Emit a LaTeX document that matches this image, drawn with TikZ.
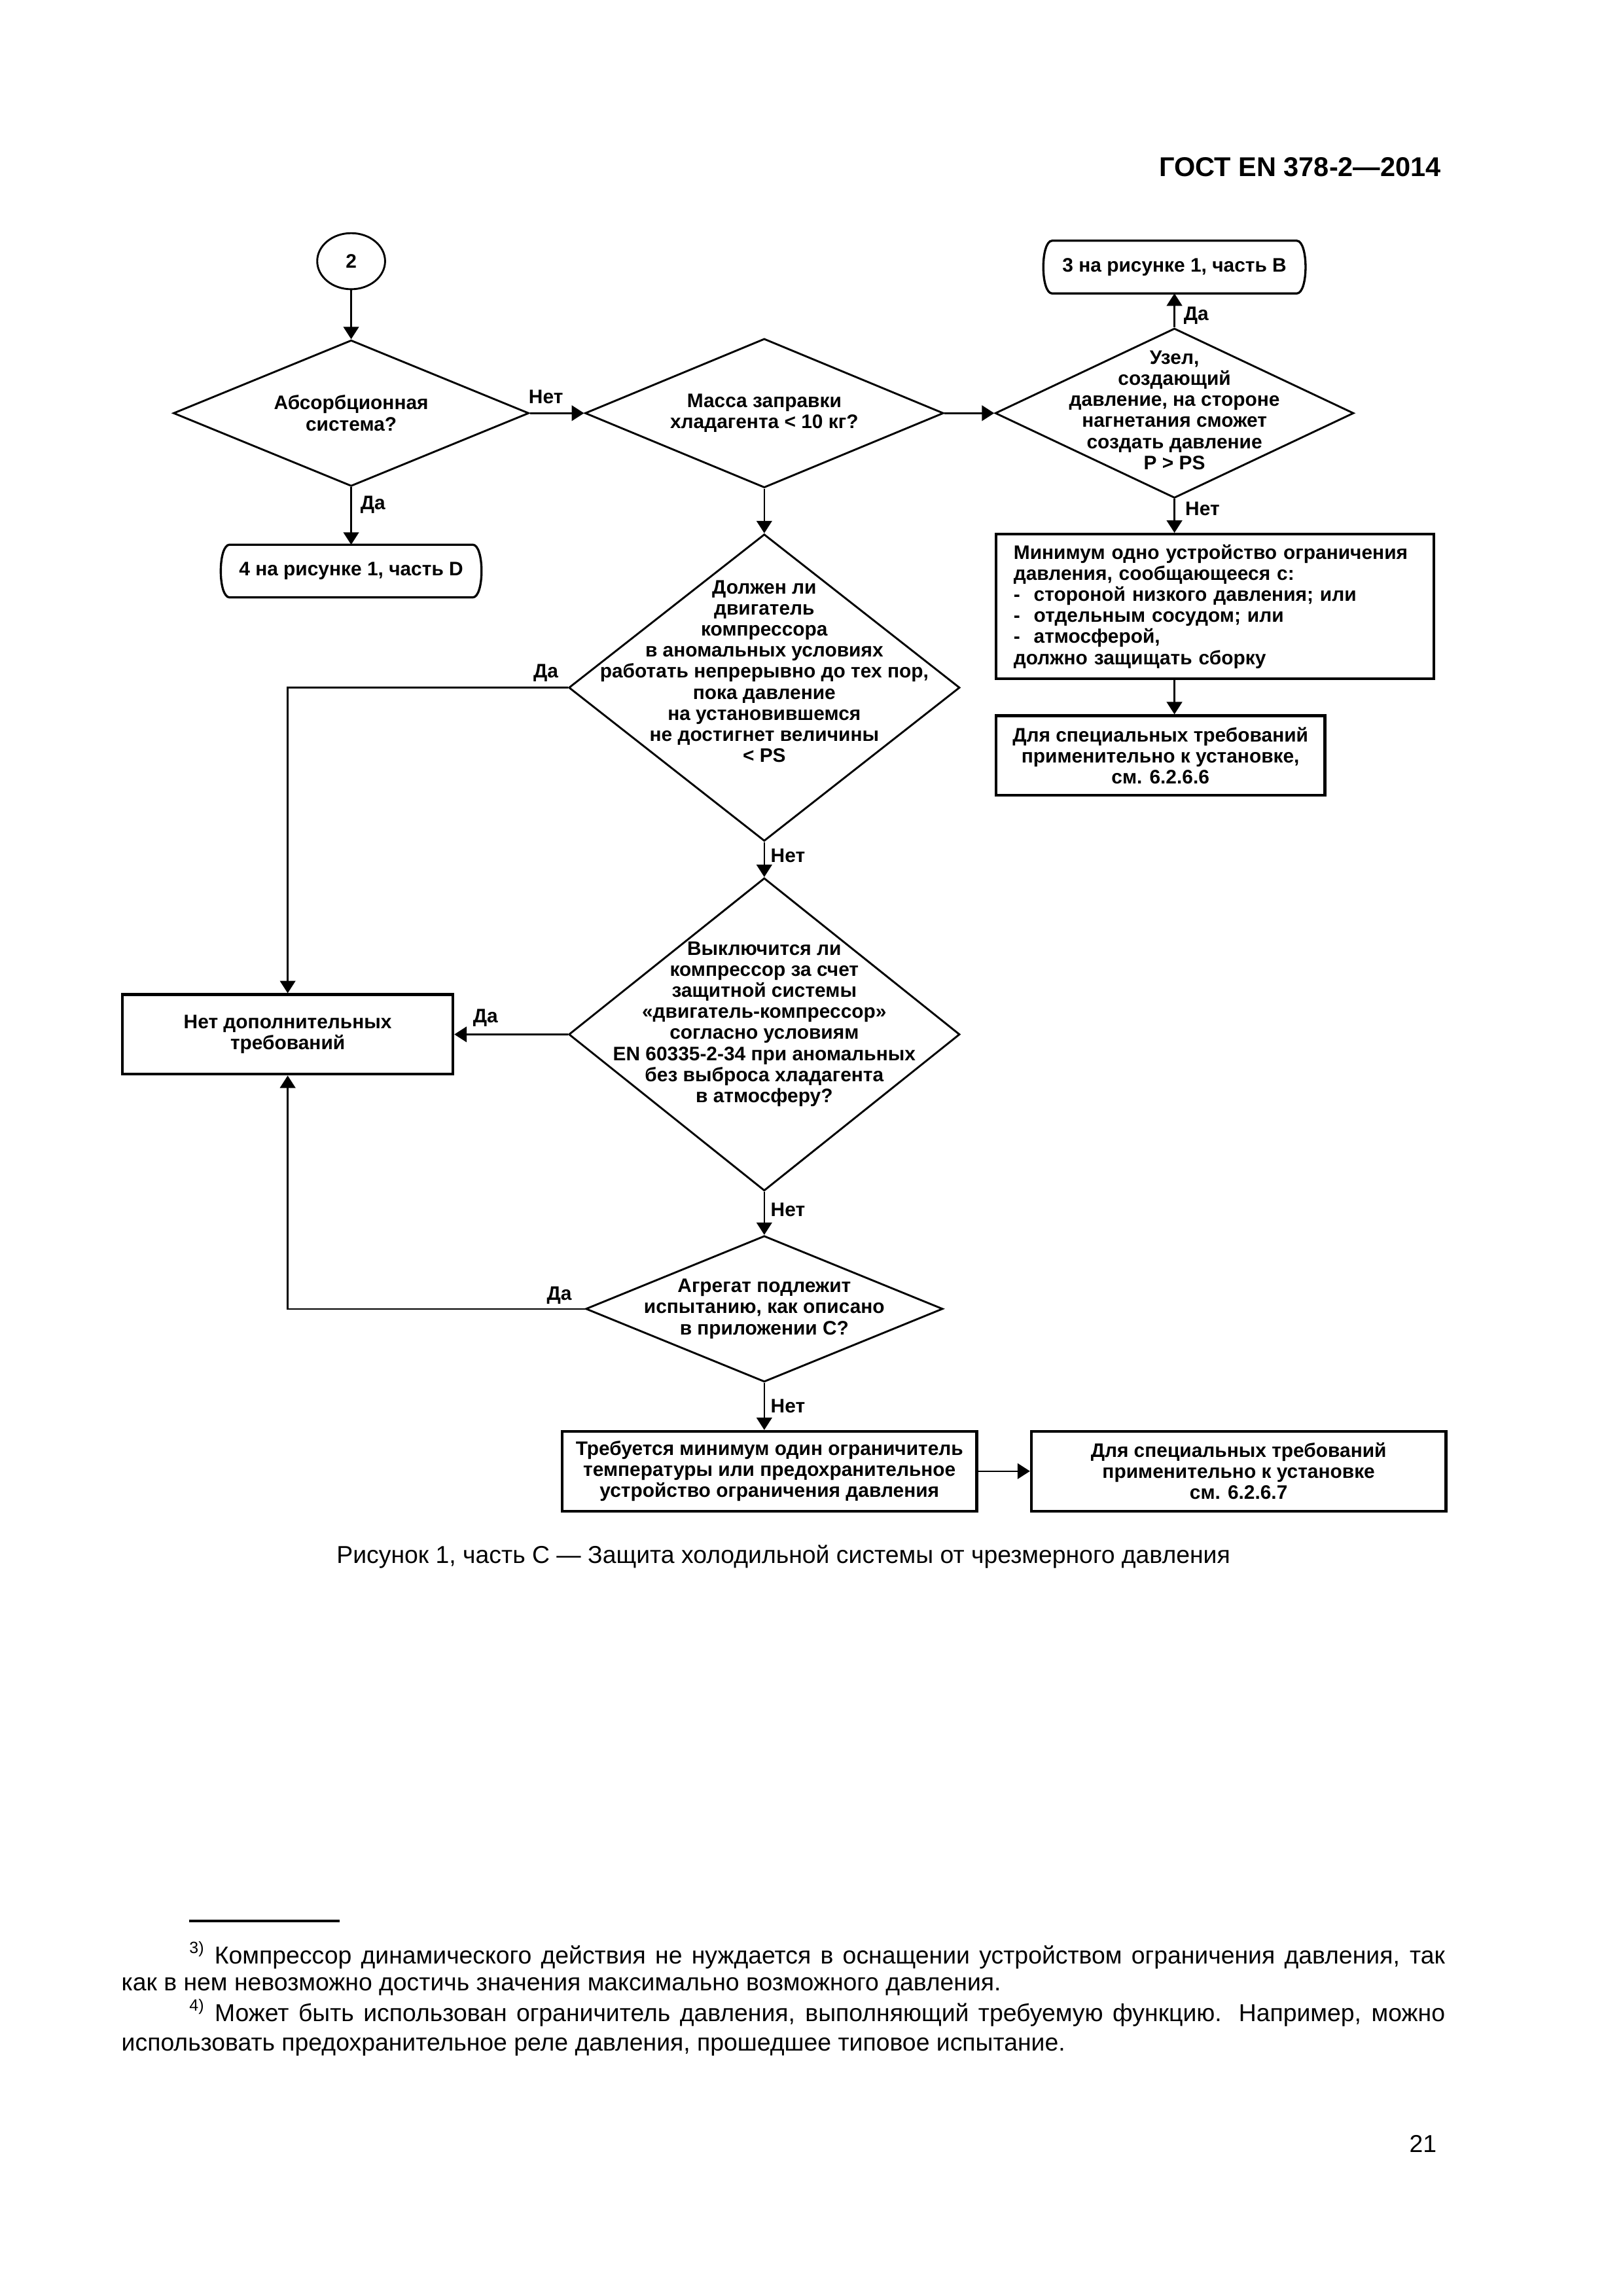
\documentclass[tikz,border=0pt]{standalone}
\usepackage{fontspec}
\setmainfont{Liberation Sans}
\usetikzlibrary{shapes.geometric,arrows.meta,calc}
\newcommand\pxu{0.190882mm}
\newcommand\dgfont{\fontsize{7.2}{7.75}\selectfont\bfseries}
\begin{document}
\begin{tikzpicture}[x=0.190882mm,y=-0.190882mm,
  dia/.style={draw, diamond, inner sep=0pt, line width=0.7pt},
  dtxt/.style={align=center, font=\dgfont, inner sep=0pt},
  box/.style={draw, line width=1pt, inner sep=0pt, align=center, font=\dgfont},
  termbox/.style={inner sep=0pt, align=center, font=\dgfont},
  lbl/.style={font=\dgfont, inner sep=0pt},
  arr/.style={-{Triangle[length=1.6mm,width=2mm]}, line width=0.6pt},
  ftxt/.style={font=\fontsize{9}{11}\selectfont, inner sep=0pt}]
\useasboundingbox (0,0) rectangle (1100,1556);
% header
\node[font=\fontsize{10}{12}\selectfont\bfseries, anchor=east, inner sep=0pt] (hdr) at (977,113) {ГОСТ EN 378-2—2014};
% start circle
\node[draw, ellipse, line width=0.7pt, minimum width=46*\pxu, minimum height=38*\pxu, inner sep=0pt, font=\dgfont] (c2) at (238,177) {2};
% diamonds
\node[dia, minimum width=241*\pxu, minimum height=99*\pxu] (d1) at (238,280) {};
\node[dtxt] (d1t) at (238,280) {Абсорбционная\\система?};
\node[dia, minimum width=243*\pxu, minimum height=101*\pxu] (d2) at (518,280) {};
\node[dtxt] (d2t) at (518,280) {Масса заправки\\хладагента < 10 кг?};
\node[dia, minimum width=243*\pxu, minimum height=115*\pxu] (d3) at (796,280) {};
\node[dtxt] (d3t) at (796,278) {Узел,\\создающий\\давление, на стороне\\нагнетания сможет\\создать давление\\P > PS};
\node[dia, minimum width=265*\pxu, minimum height=208*\pxu] (d4) at (518,466) {};
\node[dtxt] (d4t) at (518,455) {Должен ли\\двигатель\\компрессора\\в аномальных условиях\\работать непрерывно до тех пор,\\пока давление\\на установившемся\\не достигнет величины\\< PS};
\node[dia, minimum width=265*\pxu, minimum height=212*\pxu] (d5) at (518,701) {};
\node[dtxt] (d5t) at (518,694) {Выключится ли\\компрессор за счет\\защитной системы\\«двигатель-компрессор»\\согласно условиям\\EN 60335-2-34 при аномальных\\без выброса хладагента\\в атмосферу?};
\node[dia, minimum width=242*\pxu, minimum height=99*\pxu] (d6) at (518,887) {};
\node[dtxt] (d6t) at (518,887) {Агрегат подлежит\\испытанию, как описано\\в приложении С?};
% terminal boxes
\node[termbox, minimum width=177*\pxu, minimum height=35*\pxu] (t3) at (796,181) {3 на рисунке 1, часть B};
\node[termbox, minimum width=176*\pxu, minimum height=35*\pxu] (t4) at (238,387) {4 на рисунке 1, часть D};
\foreach \t in {t3,t4}{
  \draw[line width=0.8pt] ([xshift=6*\pxu]\t.north west) -- ([xshift=-6*\pxu]\t.north east)
    .. controls ([xshift=2*\pxu]\t.north east) and ([xshift=2*\pxu]\t.south east) .. ([xshift=-6*\pxu]\t.south east)
    -- ([xshift=6*\pxu]\t.south west)
    .. controls ([xshift=-2*\pxu]\t.south west) and ([xshift=-2*\pxu]\t.north west) .. cycle;
}
% rectangular boxes
\node[box, align=left, text width=273*\pxu, inner xsep=12*\pxu, minimum height=98*\pxu] (b1) at (823.5,411) {Минимум одно устройство ограничения\\давления, сообщающееся с:\\-\hspace{0.7em}стороной низкого давления; или\\-\hspace{0.7em}отдельным сосудом; или\\-\hspace{0.7em}атмосферой,\\должно защищать сборку};
\node[box, minimum width=223*\pxu, minimum height=54*\pxu] (b2) at (786.5,512) {Для специальных требований\\применительно к установке,\\см. 6.2.6.6};
\node[box, minimum width=224*\pxu, minimum height=54*\pxu] (n) at (195,701) {Нет дополнительных\\требований};
\node[box, minimum width=281*\pxu, minimum height=54*\pxu] (b3) at (521.5,997) {Требуется минимум один ограничитель\\температуры или предохранительное\\устройство ограничения давления};
\node[box, minimum width=281*\pxu, minimum height=54*\pxu] (b4) at (839.5,997) {Для специальных требований\\применительно к установке\\см. 6.2.6.7};
% connectors
\draw[arr] (c2) -- (d1);
\draw[arr] (d1.east) -- (d2.west);
\draw[arr] (d2.east) -- (d3.west);
\draw[arr] (d3.north) -- (t3.south);
\draw[arr] (d1.south) -- (t4.north);
\draw[arr] (d3.south) -- (d3.south |- b1.north);
\draw[arr] (d3.south |- b1.south) -- (d3.south |- b2.north);
\draw[arr] (d2.south) -- (d4.north);
\draw[arr] (d4.west) -| (n.north);
\draw[arr] (d4.south) -- (d5.north);
\draw[arr] (d5.west) -- (n.east);
\draw[arr] (d5.south) -- (d6.north);
\draw[arr] (d6.west) -| (n.south);
\draw[arr] (d6.south) -- (d6.south |- b3.north);
\draw[arr] (b3.east) -- (b4.west);
% labels
\node[lbl] (l1) at (370,269) {Нет};
\node[lbl, anchor=west] (l2) at (244,342) {Да};
\node[lbl, anchor=west] (l3) at (802,214) {Да};
\node[lbl, anchor=west] (l4) at (803,345) {Нет};
\node[lbl] (l5) at (370,456) {Да};
\node[lbl, anchor=west] (l6) at (522,580) {Нет};
\node[lbl] (l7) at (329,690) {Да};
\node[lbl, anchor=west] (l8) at (522,820) {Нет};
\node[lbl] (l9) at (379,878) {Да};
\node[lbl, anchor=west] (l10) at (522,953) {Нет};
% caption
\node[ftxt] (cap) at (531,1055) {Рисунок 1, часть С — Защита холодильной системы от чрезмерного давления};
% footnotes
\draw[line width=1pt] (128,1302) coordinate (fr1) -- (230,1302) coordinate (fr2);
\node[ftxt, anchor=base west] (f1) at (128,1331) {\makebox[162.44mm][s]{\textsuperscript{3)} Компрессор динамического действия не нуждается в оснащении устройством ограничения давления, так}};
\node[ftxt, anchor=base west] (f2) at (82,1349) {как в нем невозможно достичь значения максимально возможного давления.};
\node[ftxt, anchor=base west] (f3) at (128,1370) {\makebox[162.44mm][s]{\textsuperscript{4)} Может быть использован ограничитель давления, выполняющий требуемую функцию. Например, можно}};
\node[ftxt, anchor=base west] (f4) at (82,1390) {использовать предохранительное реле давления, прошедшее типовое испытание.};
\node[ftxt, anchor=east] (pg) at (974,1453) {21};
\end{tikzpicture}
\end{document}
